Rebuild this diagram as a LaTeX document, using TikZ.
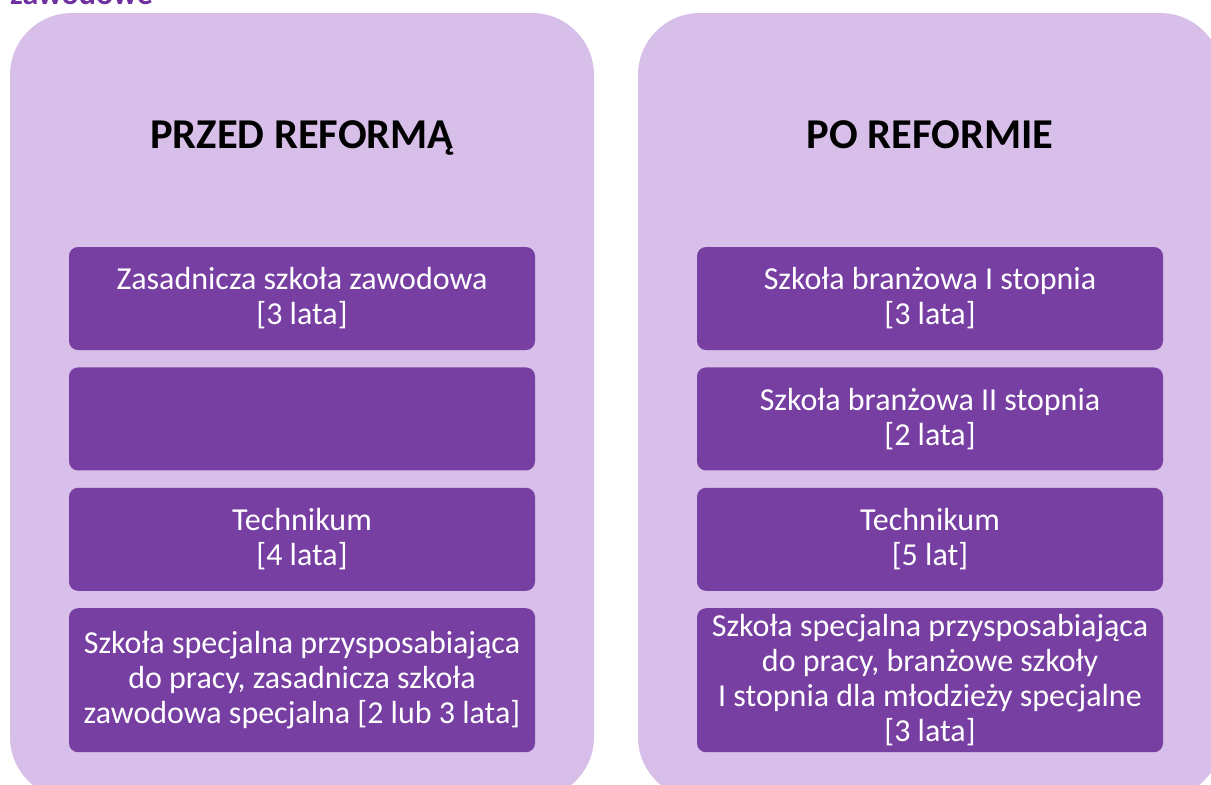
\documentclass[tikz,border=0pt]{standalone}
\usepackage{fontspec}
\setmainfont{Carlito}
\usetikzlibrary{positioning}

\definecolor{panelfill}{RGB}{216,191,234}
\definecolor{boxfill}{RGB}{120,63,163}
\definecolor{capcol}{RGB}{112,48,160}

\begin{document}
\begin{tikzpicture}[
  x=1pt,y=-1pt,
  panel/.style={fill=panelfill,rounded corners=62pt,minimum width=584pt,minimum height=786pt,inner sep=0pt},
  hdr/.style={font=\fontsize{42.5}{46}\selectfont\bfseries,text=black,anchor=base},
  box/.style={fill=boxfill,rounded corners=9pt,minimum width=466pt,minimum height=103pt,
              align=center,text=white,inner sep=0pt,font=\fontsize{32}{35}\selectfont},
  tall/.style={box,minimum height=144pt},
  captxt/.style={font=\fontsize{32}{36}\selectfont\bfseries,text=capcol,anchor=base west,inner sep=0pt},
]
\clip (0,0) rectangle (1211,785);

% ===== caption, cut off at the top =====
\node[captxt] (ctop) at (10,4) {zawodowe};

% ===== left panel: before the reform =====
\node[panel] (lp) at (302,406) {};
\node[hdr] (lh) at (302,148) {PRZED REFORMĄ};
\node[box] (la) at (302,298.5) {Zasadnicza szkoła zawodowa\\{}[3 lata]};
\node[box,below=17pt of la] (lb) {};
\node[box,below=17pt of lb] (lc) {Technikum\\{}[4 lata]};
\node[tall,below=17pt of lc] (ld) {Szkoła specjalna przysposabiająca\\do pracy, zasadnicza szkoła\\zawodowa specjalna [2 lub 3 lata]};

% ===== right panel: after the reform =====
\node[panel] (rp) at (930,406) {};
\node[hdr] (rh) at (930,148) {PO REFORMIE};
\node[box] (ra) at (930,298.5) {Szkoła branżowa I stopnia\\{}[3 lata]};
\node[box,below=17pt of ra] (rb) {Szkoła branżowa II stopnia\\{}[2 lata]};
\node[box,below=17pt of rb] (rc) {Technikum\\{}[5 lat]};
\node[tall,below=17pt of rc] (rd) {Szkoła specjalna przysposabiająca\\do pracy, branżowe szkoły\\I stopnia dla młodzieży specjalne\\{}[3 lata]};
\end{tikzpicture}
\end{document}
